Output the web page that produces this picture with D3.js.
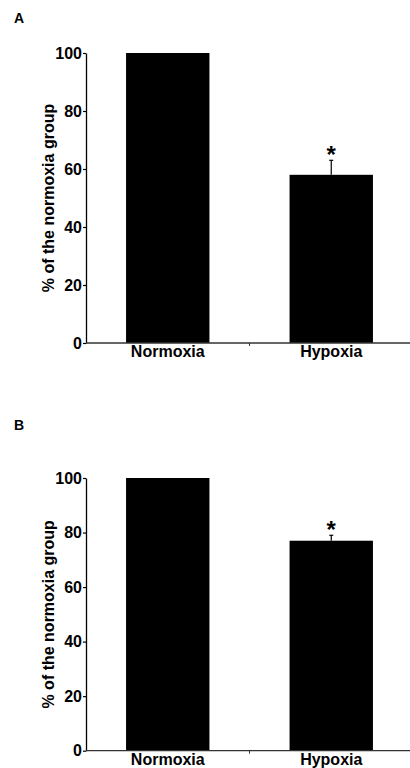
<!DOCTYPE html>
<html>
<head>
<meta charset="UTF-8"/>
<script src="https://d3js.org/d3.v7.min.js"></script>
<style>
body { margin: 0; background: #fff; }
text { font-family: "Liberation Sans", Arial, Helvetica, sans-serif; font-weight: bold; fill: #000; }
</style>
</head>
<body>
<div id="chart"></div>
<script>
// data
var groups = ["Normoxia", "Hypoxia"];
var valuesA = [100, 58];
var errorsA = [0, 5];
var valuesB = [100, 77];
var errorsB = [0, 2];
var yTicks = [0, 20, 40, 60, 80, 100];
var sigA = [false, true];
var sigB = [false, true];

var svg = d3.select("#chart").append("svg")
    .attr("width", 410)
    .attr("height", 768);

function panel(label, labelY, top, bottom, values, errors, sig) {
    var x = d3.scaleBand().domain(groups).range([86, 413])
        .paddingInner(0.49).paddingOuter(0.245);
    var y = d3.scaleLinear().domain([0, 100]).range([bottom, top]);

    svg.append("text")
        .attr("x", 14).attr("y", labelY)
        .style("font-size", "14px")
        .text(label);

    // bars
    svg.selectAll(null).data(values).enter().append("rect")
        .attr("x", function(d, i) { return x(groups[i]); })
        .attr("y", function(d) { return y(d); })
        .attr("width", x.bandwidth())
        .attr("height", function(d) { return bottom - y(d); })
        .attr("fill", "#000");

    // error bars (upper only)
    values.forEach(function(v, i) {
        if (errors[i] <= 0) return;
        var cx = x(groups[i]) + x.bandwidth() / 2;
        svg.append("line")
            .attr("x1", cx).attr("x2", cx)
            .attr("y1", y(v)).attr("y2", y(v + errors[i]))
            .attr("stroke", "#000").attr("stroke-width", 1.2);
        svg.append("line")
            .attr("x1", cx - 2).attr("x2", cx + 2)
            .attr("y1", y(v + errors[i])).attr("y2", y(v + errors[i]))
            .attr("stroke", "#000").attr("stroke-width", 1.2);
        if (sig[i]) {
            svg.append("text")
                .attr("x", cx).attr("y", y(v + errors[i]) + 3)
                .attr("text-anchor", "middle")
                .style("font-size", "24px")
                .text("*");
        }
    });

    // y axis
    var yAxis = d3.axisLeft(y).tickValues(yTicks).tickSize(3).tickSizeOuter(0).tickPadding(1);
    var gy = svg.append("g").attr("transform", "translate(86,0)").call(yAxis);
    gy.select(".domain").attr("stroke", "#000").attr("stroke-width", 1.3);
    gy.selectAll(".tick line").attr("stroke", "#000").attr("stroke-width", 1.2);
    gy.selectAll(".tick text")
        .style("font-size", "16px")
        .style("font-family", "'Liberation Sans', Arial, sans-serif")
        .style("font-weight", "bold")
        .attr("fill", "#000");

    // x axis
    svg.append("line")
        .attr("x1", 86).attr("x2", 410)
        .attr("y1", bottom).attr("y2", bottom)
        .attr("stroke", "#333").attr("stroke-width", 1.3);
    svg.append("line")
        .attr("x1", x(groups[1]) - x.step() * x.paddingInner() / 2)
        .attr("x2", x(groups[1]) - x.step() * x.paddingInner() / 2)
        .attr("y1", bottom).attr("y2", bottom + 3)
        .attr("stroke", "#333").attr("stroke-width", 1);

    svg.selectAll(null).data(groups).enter().append("text")
        .attr("x", function(d) { return x(d) + x.bandwidth() / 2; })
        .attr("y", bottom + 14)
        .attr("text-anchor", "middle")
        .style("font-size", "16px")
        .text(function(d) { return d; });

    svg.append("text")
        .attr("transform", "translate(53.5," + ((top + bottom) / 2) + ") rotate(-90)")
        .attr("text-anchor", "middle")
        .style("font-size", "16px")
        .text("% of the normoxia group");
}

panel("A", 23, 53, 343, valuesA, errorsA, sigA);
panel("B", 430, 478, 750.7, valuesB, errorsB, sigB);
</script>
</body>
</html>
